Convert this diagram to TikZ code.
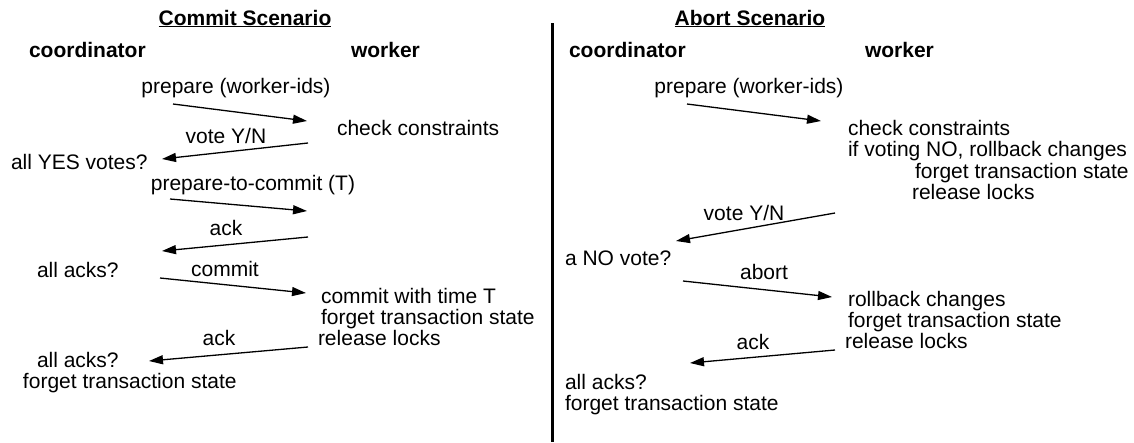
\documentclass[tikz,border=0pt]{standalone}
\usepackage{fontspec}
\setmainfont{Liberation Sans}
\usetikzlibrary{arrows.meta}
\begin{document}
\begin{tikzpicture}[x=1pt, y=-1pt,
  every node/.style={inner sep=0pt, outer sep=0pt, text height=12pt, text depth=0pt,
                     font=\fontsize{21}{25}\selectfont},
  say/.style={anchor=west},
  mid/.style={anchor=center},
  role/.style={anchor=west, font=\fontsize{21}{25}\selectfont\bfseries},
  heading/.style={anchor=center, font=\fontsize{21}{25}\selectfont\bfseries},
  msg/.style={line width=1.3pt, -{Triangle[length=14pt,width=9pt]}},
  divider/.style={line width=3pt},
]
\useasboundingbox (0,0) rectangle (1134,442);

% ---------- commit scenario ----------
\node[heading] (ctitle) at (245,19) {\underline{Commit Scenario}};
\node[role] (ccoord) at (29,51) {coordinator};
\node[role] (cwork) at (351,51) {worker};

\node[mid] (cprep) at (236,87) {prepare (worker-ids)};
\coordinate (c1a) at (173,104); \coordinate (c1b) at (307,121);
\draw[msg] (c1a) -- (c1b);
\node[say] (ccheck) at (337,129) {check constraints};

\node[mid] (cvote) at (226,137) {vote Y/N};
\coordinate (c2a) at (308,143); \coordinate (c2b) at (162,159);
\draw[msg] (c2a) -- (c2b);
\node[say] (cyes) at (11,163) {all YES votes?};

\node[mid] (cptc) at (253,184) {prepare-to-commit (T)};
\coordinate (c3a) at (170,199); \coordinate (c3b) at (307,211);
\draw[msg] (c3a) -- (c3b);

\node[mid] (cack1) at (226,229) {ack};
\coordinate (c4a) at (308,237); \coordinate (c4b) at (162,251);
\draw[msg] (c4a) -- (c4b);
\node[say] (callacks1) at (37,271) {all acks?};

\node[mid] (ccommit) at (225,270) {commit};
\coordinate (c5a) at (160,278); \coordinate (c5b) at (306,293);
\draw[msg] (c5a) -- (c5b);
\node[say] (cwtime) at (321,297) {commit with time T};
\node[say] (cwforget) at (321,318) {forget transaction state};
\node[say] (cwrel) at (318,339) {release locks};

\node[mid] (cack2) at (219,339) {ack};
\coordinate (c6a) at (308,347); \coordinate (c6b) at (149,361);
\draw[msg] (c6a) -- (c6b);
\node[say] (callacks2) at (37,361) {all acks?};
\node[say] (ccforget) at (23,382) {forget transaction state};

% ---------- separator ----------
\coordinate (septop) at (552,23); \coordinate (sepbot) at (552,442);
\draw[divider] (septop) -- (sepbot);

% ---------- abort scenario ----------
\node[heading] (atitle) at (750,19) {\underline{Abort Scenario}};
\node[role] (acoord) at (569,51) {coordinator};
\node[role] (awork) at (865,51) {worker};

\node[mid] (aprep) at (749,87) {prepare (worker-ids)};
\coordinate (a1a) at (687,104); \coordinate (a1b) at (821,121);
\draw[msg] (a1a) -- (a1b);
\node[say] (acheck) at (848,129) {check constraints};
\node[say] (aifno) at (848,150) {if voting NO, rollback changes};
\node[say] (aforget1) at (915,172) {forget transaction state};
\node[say] (arel1) at (912,193) {release locks};

\node[mid] (avote) at (744,214) {vote Y/N};
\coordinate (a2a) at (835,213); \coordinate (a2b) at (676,241);
\draw[msg] (a2a) -- (a2b);
\node[say] (ano) at (565,259) {a NO vote?};

\node[mid] (aabort) at (764,273) {abort};
\coordinate (a3a) at (683,281); \coordinate (a3b) at (832,297);
\draw[msg] (a3a) -- (a3b);
\node[say] (aroll) at (848,300) {rollback changes};
\node[say] (aforget2) at (848,321) {forget transaction state};
\node[say] (arel2) at (845,342) {release locks};

\node[mid] (aack) at (753,343) {ack};
\coordinate (a4a) at (835,350); \coordinate (a4b) at (690,363);
\draw[msg] (a4a) -- (a4b);
\node[say] (aallacks) at (565,383) {all acks?};
\node[say] (aforget3) at (565,404) {forget transaction state};
\end{tikzpicture}
\end{document}
